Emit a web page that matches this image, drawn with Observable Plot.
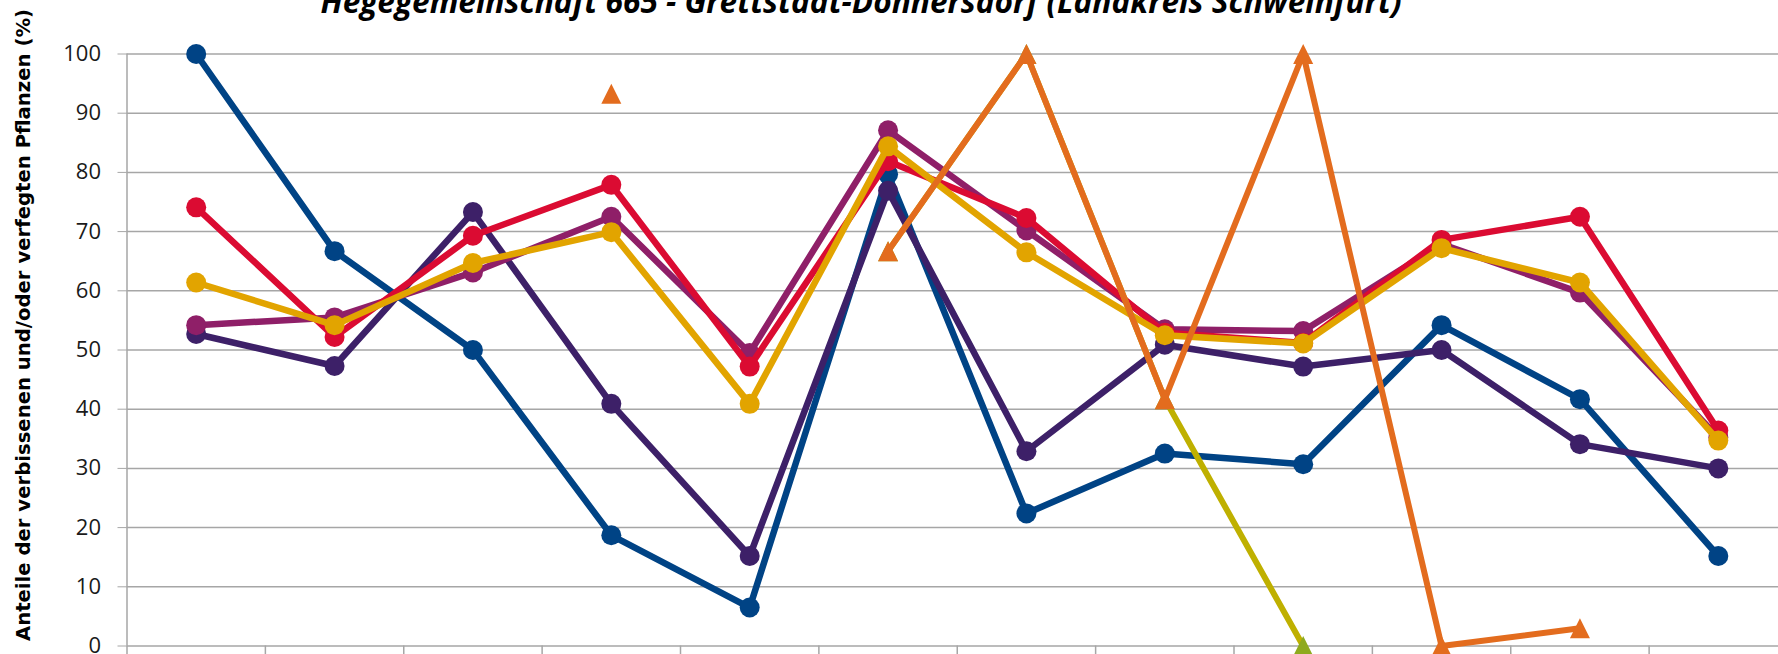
<!DOCTYPE html>
<html><head><meta charset="utf-8">
<script src="https://cdn.jsdelivr.net/npm/d3@7"></script>
<script src="https://cdn.jsdelivr.net/npm/@observablehq/plot@0.6"></script>
<style>
html,body{margin:0;padding:0;background:#fff;overflow:hidden;width:1778px;height:654px;}
#wrap{position:relative;width:1778px;height:654px;overflow:hidden;}
#chart{position:absolute;left:0;top:0;width:1800px;}
#chart svg{max-width:none !important;}
#title{position:absolute;white-space:nowrap;font-family:"Open Sans";font-weight:bold;font-style:italic;line-height:1;color:#000;}
#ylabel{position:absolute;white-space:nowrap;font-family:"DejaVu Sans";font-weight:bold;line-height:1;color:#000;transform:translate(-50%,-50%) rotate(-90deg);}
</style></head>
<body><div id="wrap"><div id="chart"></div><div id="title"></div><div id="ylabel"></div></div>
<script>
const titleText = "Hegegemeinschaft 665 - Grettstadt-Donnersdorf (Landkreis Schweinfurt)";
const yLabelText = "Anteile der verbissenen und/oder verfegten Pflanzen (%)";
const categories = ["1","2","3","4","5","6","7","8","9","10","11","12"];
const yTicks = [0,10,20,30,40,50,60,70,80,90,100];

const serieBlau    = [100, 66.7, 50, 18.7, 6.5, 79.7, 22.4, 32.5, 30.7, 54.2, 41.7, 15.2];
const serieLila    = [52.7, 47.3, 73.3, 40.9, 15.2, 76.9, 32.9, 50.9, 47.2, 50, 34.1, 30];
const serieMagenta = [54.2, 55.5, 63.1, 72.5, 49.5, 87.1, 70.2, 53.5, 53.2, 67.9, 59.7, 35.2];
const serieRot     = [74.1, 52.2, 69.3, 77.9, 47.2, 81.9, 72.3, 52.9, 51.2, 68.6, 72.5, 36.4];
const serieGelb    = [61.4, 54.2, 64.7, 69.9, 40.9, 84.4, 66.5, 52.5, 51.1, 67.2, 61.4, 34.7];
const serieOliv    = [null, null, null, null, null, 66.7, 100, 41.7, 0, null, null, null];
const serieOrange  = [null, null, null, 93.3, null, 66.7, 100, 41.7, 100, 0, 3, null];

// styles (kept apart from data)
const tri = {draw(ctx, size){ const s = Math.sqrt(size/Math.PI); ctx.moveTo(0,-s); ctx.lineTo(s,s); ctx.lineTo(-s,s); ctx.closePath(); }};
const series = [
  {values: serieBlau, line: "#004385", mark: "#004385", symbol: "circle", w: 6.5, r: 10},
  {values: serieLila, line: "#3d2068", mark: "#3d2068", symbol: "circle", w: 6.5, r: 10},
  {values: serieMagenta, line: "#8f1f68", mark: "#8f1f68", symbol: "circle", w: 6.5, r: 10},
  {values: serieRot, line: "#db0b32", mark: "#db0b32", symbol: "circle", w: 6.5, r: 10},
  {values: serieGelb, line: "#e2a400", mark: "#e2a400", symbol: "circle", w: 6.5, r: 10},
  {values: serieOliv, line: "#bfb000", mark: "#8eaa1e", symbol: tri, w: 6, r: 10},
  {values: serieOrange, line: "#e36c1e", mark: "#e36c1e", symbol: tri, w: 6, r: 10}
];

const W = 1800, H = 700;
const xL = 126.5, xR = 1787, yTop = 53.5, yBot = 645.5;
const grid = "#a6a6a6";

const marks = [
  Plot.ruleY(yTicks, {stroke: grid, strokeWidth: 1.5}),
  Plot.axisY({ticks: yTicks, tickSize: 9, tickPadding: 17, stroke: grid, fill: "#1a1a1a", fontSize: 22, label: null, tickFormat: d => String(d)}),
  Plot.axisX({ticks: d3.range(categories.length + 1), tickSize: 14, tickFormat: () => "", stroke: grid, strokeWidth: 1.5, label: null}),
  Plot.ruleX([0], {stroke: grid, strokeWidth: 1.5})
];
for (const s of series) {
  const data = s.values.map((v, i) => ({i: i + 0.5, cat: categories[i], v}));
  marks.push(Plot.line(data, {x: "i", y: "v", stroke: s.line, strokeWidth: s.w, strokeLinejoin: "round", strokeLinecap: "round"}));
  marks.push(Plot.dot(data.filter(d => d.v != null), {x: "i", y: "v", fill: s.mark, stroke: "none", r: s.r, symbol: s.symbol}));
}

const chart = Plot.plot({
  width: W, height: H,
  marginLeft: xL, marginRight: W - xR, marginTop: yTop, marginBottom: H - yBot,
  x: {domain: [0, categories.length]},
  y: {domain: [0, 100]},
  style: {fontFamily: "Open Sans", fontSize: "22px", color: "#1a1a1a", background: "transparent", overflow: "visible", maxWidth: "none"},
  marks
});
document.getElementById("chart").appendChild(chart);

// title & y label sizing (fit to measured widths)
const tEl = document.getElementById("title");
tEl.textContent = titleText;
tEl.style.fontSize = "20px";
const tF = 20 * 1082 / tEl.offsetWidth;
tEl.style.fontSize = tF + "px";
const tW = tEl.offsetWidth;
tEl.style.left = (861 - tW / 2) + "px";
tEl.style.top = (13 - 0.888 * tF) + "px";

const yEl = document.getElementById("ylabel");
yEl.textContent = yLabelText;
yEl.style.fontSize = "20px";
const yF = 20 * 633 / yEl.offsetWidth;
yEl.style.fontSize = yF + "px";
yEl.style.left = "24px";
yEl.style.top = "325px";
</script>
</body></html>
